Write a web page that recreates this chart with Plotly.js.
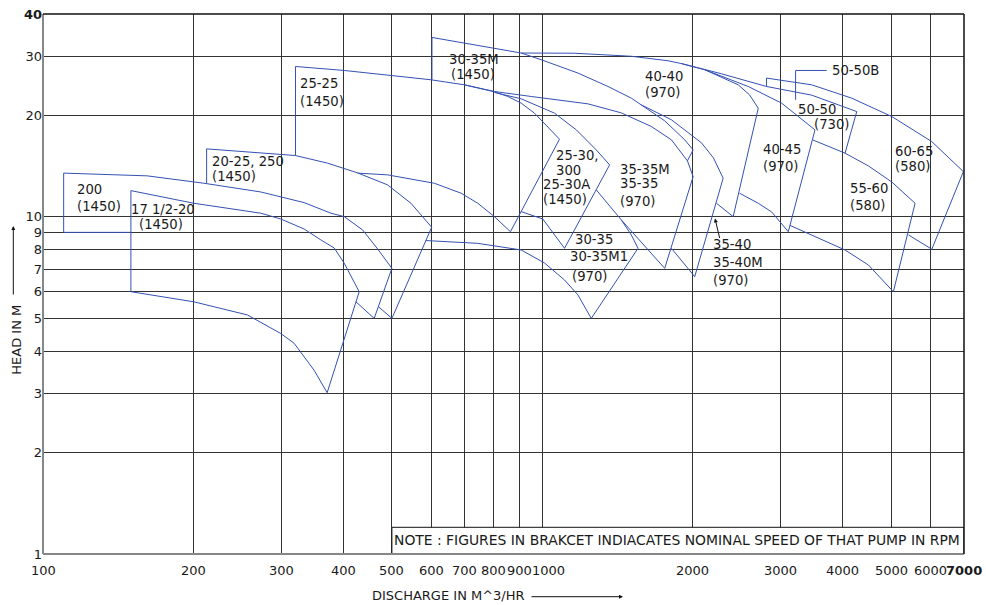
<!DOCTYPE html>
<html>
<head>
<meta charset="utf-8">
<script src="https://cdn.plot.ly/plotly-3.0.1.min.js"></script>
<style>html,body{margin:0;padding:0;background:#fff;}#chart{width:986px;height:605px;}</style>
</head>
<body>
<div id="chart"></div>
<script>
// Pump selection chart: each pump's operating tile on log-log axes
// (discharge in m3/hr against head in m). A tile is traced as its left edge,
// top (largest impeller) curve, right edge and bottom curve.

const xTicks = [100, 200, 300, 400, 500, 600, 700, 800, 900, 1000, 2000, 3000, 4000, 5000, 6000, 7000];
const xTickText = ['100', '200', '300', '400', '500', '600', '700', '800', '900', '1000', '2000', '3000', '4000', '5000', '6000', '<b>7000</b>'];
const yTicks = [1, 2, 3, 4, 5, 6, 7, 8, 9, 10, 20, 30, 40];
const yTickText = ['1', '2', '3', '4', '5', '6', '7', '8', '9', '10', '20', '30', '<b>40</b>'];

// 200 (1450 rpm)
const q200 = [110, 110, 161.7, 210, 273, 333.4, 377.3, 401.3, 436.8, 466.5, 500, 460.8, 423.5, null, 110, 150];
const h200 = [9.0, 13.49, 13.24, 12.59, 11.86, 11.03, 10.26, 10.02, 9.15, 8.09, 7.04, 5.00, 5.60, null, 9.0, 9.0];
// 17 1/2-20 (1450 rpm)
const q1720 = [150, 150, 200.5, 273, 299.5, 333.4, 360.2, 383.1, 401.3, 430, 370.9, 349.2, 318.4, 299.5, 256.7, 200.5, 150];
const h1720 = [6.0, 11.97, 10.98, 10.26, 9.86, 9.21, 8.55, 8.09, 7.29, 6.0, 3.01, 3.51, 4.22, 4.51, 5.12, 5.60, 6.0];
// 20-25, 250 (1450 rpm)
const q2025 = [212.7, 212.7, 320.5, 371.6, 426.8, 490.1, 545.9, 600.7, 500, 469.8];
const h2025 = [12.6, 15.92, 15.21, 14.44, 13.51, 12.45, 10.98, 9.32, 5.00, 5.42];
// 25-25 (1450 rpm)
const q2525 = [320.5, 320.5, 401.3, 501.6, 598.8, 698.5, 802.3, 853.6, 907.7, 965, 1018.6, 1083.2, 863.9, 802.3, 743, 687.9, 608, 490.1, 426.8];
const h2525 = [15.21, 27.95, 27.20, 26.23, 25.52, 24.66, 23.51, 22.77, 21.76, 20.32, 18.76, 17.01, 9.04, 10.02, 10.98, 11.76, 12.59, 13.33, 13.49];
// 30-35M (1450 rpm)
const q3035M = [601.5, 601.5, 907.7, 995.4, 1179.4, 1354.6, 1508.8, 1760, 1930.4, 2006.6, 1954.5];
const h3035M = [25.52, 34.08, 30.64, 29.27, 26.72, 24.38, 22.51, 19.28, 16.93, 15.81, 14.67];
// 25-30, 300, 25-30A (1450 rpm)
const q2530 = [802.3, 907.7, 1058.5, 1170.5, 1283.6, 1364.9, 1108.7, 1003, 907.7];
const h2530 = [23.40, 22.41, 20.32, 18.13, 15.81, 14.27, 8.07, 9.86, 10.37];
// 35-35M, 35-35 (970 rpm)
const q3535 = [698.5, 802.3, 950.5, 1235.3, 1440.5, 1654.7, 1815.4, 1954.5, 2006.6, 1760, 1440.5, 1283.6];
const h3535 = [24.66, 23.56, 22.77, 21.65, 20.36, 18.55, 16.93, 14.67, 13.17, 7.04, 9.80, 12.03];
// 30-35, 30-35M1 (970 rpm)
const q3035 = [585, 743, 907.7, 1011, 1108.7, 1179.4, 1254.2, 1556, 1508.8, 1440.5];
const h3035 = [8.51, 8.35, 7.98, 7.30, 6.50, 5.87, 5.00, 8.07, 8.84, 9.80];
// 35-40, 35-40M (970 rpm)
const q3540 = [1580, 1815.4, 2084.9, 2203.6, 2304.6, 2021.4, 1815.4];
const h3540 = [21.50, 19.42, 16.59, 14.97, 13.03, 6.65, 8.07];
// 40-40 (970 rpm)
const q4040 = [907.7, 1159.4, 1508.8, 1787.9, 1901, 2117, 2470, 2602.5, 2709.6, 2413.7, 2234.3];
const h4040 = [30.64, 30.6, 29.97, 29.06, 28.51, 27.33, 24.66, 23.03, 21.02, 10.02, 10.98];
// 40-45 (970 rpm)
const q4045 = [2117, 2587, 3017.4, 3234, 3520, 3112.6, 2881.4, 2709.6, 2485];
const h4045 = [27.33, 24.38, 21.76, 20.09, 18.13, 9.04, 10.35, 10.98, 11.76];
// 50-50 (730 rpm)
const q5050 = [1901, 2286.6, 2815, 3466.5, 4268, 4044];
const h5050 = [28.51, 26.59, 24.38, 22.98, 20.54, 15.46];
// 50-50B step
const q5050B = [2815, 2815];
const h5050B = [24.38, 25.82];
// 60-65 (580 rpm)
const q6065 = [2815, 3466.5, 4171, 5015, 6034, 6980, 6034, 5419];
const h6065 = [25.82, 24.66, 22.51, 19.86, 16.73, 13.63, 8.02, 8.84];
// 55-60 (580 rpm)
const q5560 = [3482.5, 4044, 4504, 5015, 5586, 5054, 4504, 4044, 3136];
const h5560 = [16.93, 15.46, 14.17, 12.70, 10.98, 6.0, 7.20, 7.98, 9.44];
// leader line for the 50-50B label
const qLeader = [3715, 3219, 3219];
const hLeader = [27.20, 27.20, 22.26];

// tile captions, anchored at their left end
const labelText = ['200', '(1450)', '17 1/2-20', '(1450)', '20-25, 250', '(1450)', '25-25', '(1450)',
  '30-35M', '(1450)', '25-30,', '300', '25-30A', '(1450)', '35-35M', '35-35', '(970)',
  '30-35', '30-35M1', '(970)', '35-40', '35-40M', '(970)', '40-40', '(970)', '40-45', '(970)',
  '50-50B', '50-50', '(730)', '60-65', '(580)', '55-60', '(580)'];
const labelQ = [117, 117, 150, 155.4, 218.4, 218.4, 327.3, 327.3,
  651.6, 656.8, 1067, 1067, 1003, 1003, 1429.5, 1429.5, 1429.5,
  1161, 1134.5, 1147, 2200.6, 2200.6, 2200.6, 1609.4, 1609.4, 2773, 2773,
  3814, 3260, 3511, 5093, 5093, 4138, 4138];
const labelH = [12.03, 10.73, 10.49, 9.47, 14.60, 13.17, 24.83, 21.96,
  29.27, 26.41, 15.18, 13.75, 12.45, 11.27, 13.84, 12.53, 11.10,
  8.60, 7.62, 6.65, 8.30, 7.34, 6.48, 26.10, 23.38, 15.81, 14.08,
  27.14, 20.78, 18.82, 15.67, 14.08, 12.11, 10.78];

const noteText = 'NOTE : FIGURES IN BRAKCET INDIACATES NOMINAL SPEED OF THAT PUMP IN RPM';

const BLUE = '#3451b2';
const FONT = 'DejaVu Sans, Verdana, sans-serif';

const tiles = [
  [q200, h200], [q1720, h1720], [q2025, h2025], [q2525, h2525], [q3035M, h3035M],
  [q2530, h2530], [q3535, h3535], [q3035, h3035], [q3540, h3540], [q4040, h4040],
  [q4045, h4045], [q5050, h5050], [q5050B, h5050B], [q6065, h6065], [q5560, h5560],
  [qLeader, hLeader]
];

const traces = tiles.map(([q, h]) => ({
  type: 'scatter', mode: 'lines', x: q, y: h,
  line: { color: BLUE, width: 1 }, connectgaps: false,
  hoverinfo: 'skip', showlegend: false
}));

const annotations = labelText.map((t, i) => ({
  xref: 'x', yref: 'y', x: Math.log10(labelQ[i]), y: Math.log10(labelH[i]),
  xshift: -2, text: t, showarrow: false, xanchor: 'left', yanchor: 'middle',
  font: { family: FONT, size: 13.2, color: '#1a1a1a' }
}));

// discharge tick labels, placed on the axis; 1000 is nudged clear of 900
xTicks.forEach((v, i) => {
  annotations.push({
    xref: 'x', yref: 'paper', x: Math.log10(v), y: 0, yshift: -16,
    xshift: v === 1000 ? 6 : 0,
    text: xTickText[i], showarrow: false, xanchor: 'center', yanchor: 'middle',
    font: { family: FONT, size: 13, color: '#1a1a1a' }
  });
});

// note inside the framed strip at the bottom right
annotations.push({
  xref: 'x', yref: 'y', x: Math.log10(500), y: Math.log10(1.1), xshift: 0,
  text: noteText, showarrow: false, xanchor: 'left', yanchor: 'middle',
  font: { family: FONT, size: 13.9, color: '#1a1a1a' }
});
// pointer to the 35-40 tile
annotations.push({
  xref: 'paper', yref: 'paper', x: (715 - 43) / 921, y: (554 - 218.5) / 540,
  ax: 5, ay: 21, text: '', showarrow: true, arrowhead: 2, arrowsize: 0.8,
  arrowwidth: 1, arrowcolor: '#111'
});
// axis titles with their arrows
annotations.push({
  xref: 'paper', yref: 'paper', x: (370 - 43) / 921, y: (554 - 595) / 540,
  text: 'DISCHARGE IN M^3/HR', showarrow: false, xanchor: 'left', yanchor: 'middle',
  font: { family: FONT, size: 13, color: '#1a1a1a' }
});
annotations.push({
  xref: 'paper', yref: 'paper', x: (623 - 43) / 921, y: (554 - 596.7) / 540,
  ax: -93, ay: 0, text: '', showarrow: true, arrowhead: 2, arrowsize: 0.8,
  arrowwidth: 1, arrowcolor: '#111'
});
annotations.push({
  xref: 'paper', yref: 'paper', x: (16.7 - 43) / 921, y: (554 - 340) / 540,
  text: 'HEAD IN M', textangle: -90, showarrow: false, xanchor: 'center', yanchor: 'middle',
  font: { family: FONT, size: 13, color: '#1a1a1a' }
});
annotations.push({
  xref: 'paper', yref: 'paper', x: (13.3 - 43) / 921, y: (554 - 226) / 540,
  ax: 0, ay: 70, text: '', showarrow: true, arrowhead: 2, arrowsize: 0.8,
  arrowwidth: 1, arrowcolor: '#111'
});

const shapes = [
  // framed note strip (covers the grid below it)
  { type: 'rect', xref: 'x', yref: 'y', x0: 500, x1: 7000, y0: 1, y1: 1.2,
    line: { color: '#111', width: 1 }, fillcolor: '#fff', layer: 'above' },
  { type: 'line', xref: 'paper', yref: 'paper', x0: 0, x1: 0, y0: 0, y1: 1, line: { color: '#888', width: 2 }, layer: 'above' },
  { type: 'line', xref: 'paper', yref: 'paper', x0: 0, x1: 1, y0: 0, y1: 0, line: { color: '#888', width: 2 }, layer: 'above' },
  { type: 'line', xref: 'paper', yref: 'paper', x0: 0, x1: 1, y0: 1, y1: 1, line: { color: '#111', width: 1.5 }, layer: 'above' },
  { type: 'line', xref: 'paper', yref: 'paper', x0: 1, x1: 1, y0: 0, y1: 1, line: { color: '#111', width: 1.5 }, layer: 'above' }
];

const layout = {
  width: 986, height: 605,
  margin: { l: 43, r: 22, t: 14, b: 51 },
  paper_bgcolor: '#fff', plot_bgcolor: '#fff',
  showlegend: false,
  xaxis: {
    type: 'log', range: [2, Math.log10(7000)],
    tickmode: 'array', tickvals: xTicks, showticklabels: false,
    showgrid: true, gridcolor: '#333', gridwidth: 1, zeroline: false,
    showline: false, ticks: ''
  },
  yaxis: {
    type: 'log', range: [0, Math.log10(40)],
    tickmode: 'array', tickvals: yTicks, ticktext: yTickText,
    showgrid: true, gridcolor: '#333', gridwidth: 1, zeroline: false,
    showline: false, ticks: '',
    tickfont: { family: FONT, size: 13, color: '#1a1a1a' }
  },
  shapes: shapes,
  annotations: annotations
};

Plotly.newPlot('chart', traces, layout, { staticPlot: true, displayModeBar: false });
</script>
</body>
</html>
